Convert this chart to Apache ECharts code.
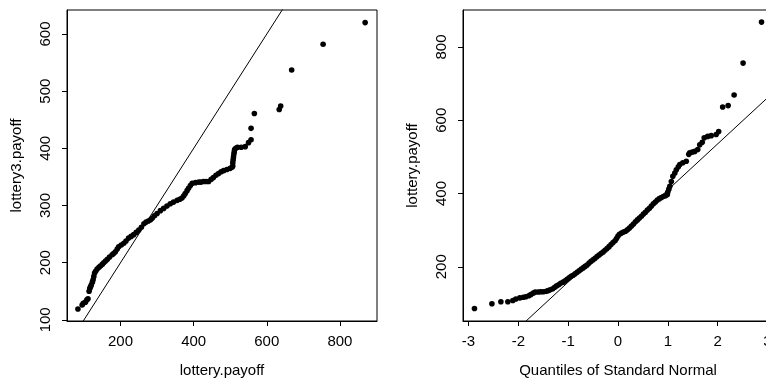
<!DOCTYPE html>
<html>
<head>
<meta charset="utf-8">
<script src="https://cdn.jsdelivr.net/npm/echarts@6/dist/echarts.min.js"></script>
<style>
html,body{margin:0;padding:0;background:#fff;}
#c{width:766px;height:379px;}
</style>
</head>
<body>
<div id="c"></div>
<script>
// Left panel: qqplot(lottery.payoff, lottery3.payoff)
var leftX = [83.5,95,98,104,108,111,114,116,118,120,123,125,127,129,132,136,141,145,150,154,159,164,170,177,181,186,191,195,202,209,215,222,229,236,243,250,257,264,270,276,282,287,293,300,309,318,327,336,345,355,362,368,373,377,382,386,391,396,405,414,420,427,434,441,448,454,461,468,475,482,491,500,505,507,507,508,509,510,511,512,515,520,530,541,550,557,557,566,634,638,668,754,869];
var leftY = [119,126,129,131,135,137,150,155,158,161,166,170,176,182,185,189,192,194,197,200,203,206,210,214,216,219,224,228,231,234,238,243,246,249,253,257,262,268,271,273,275,278,282,286,291,295,299,303,306,309,311,313,317,321,326,330,335,339,340,341,341,342,342,342,346,349,353,356,359,361,363,365,367,369,375,380,385,390,394,398,400,402,402,403,410,415,435,461,468,474,537,582,620];
var leftXTicks = [200,400,600,800];
var leftYTicks = [100,200,300,400,500,600];
var leftLine = {intercept: 0, slope: 1};

// Right panel: qqnorm(lottery.payoff) with qqline
var rightQ = [-2.88,-2.53,-2.35,-2.21,-2.11,-2.05,-1.97,-1.90,-1.85,-1.79,-1.75,-1.70,-1.66,-1.60,-1.55,-1.50,-1.44,-1.40,-1.36,-1.31,-1.27,-1.23,-1.19,-1.15,-1.10,-1.06,-1.02,-0.98,-0.94,-0.90,-0.86,-0.82,-0.78,-0.74,-0.70,-0.66,-0.62,-0.58,-0.54,-0.50,-0.46,-0.42,-0.38,-0.34,-0.30,-0.26,-0.22,-0.18,-0.14,-0.10,-0.06,-0.03,0.00,0.03,0.07,0.11,0.15,0.19,0.23,0.27,0.31,0.35,0.39,0.43,0.47,0.51,0.55,0.59,0.63,0.67,0.71,0.75,0.79,0.83,0.87,0.91,0.95,0.99,1.00,1.02,1.04,1.07,1.10,1.14,1.17,1.21,1.24,1.30,1.37,1.42,1.44,1.49,1.54,1.60,1.64,1.69,1.73,1.80,1.87,1.97,2.02,2.10,2.21,2.33,2.51,2.88];
var rightY = [86,99,104.5,104.5,108,112,115,117,118,121,124,128,131,131,132,132,133,135,137,140,144,148,151,155,158,162,166,170,174,177,181,185,189,193,197,201,205,210,215,219,223,228,232,236,240,245,250,255,261,266,271,277,284,289,292,295,297,301,306,311,317,323,328,333,338,344,349,355,360,366,372,377,382,386,389,392,394,397,404,412,420,433,447,456,465,473,479,484,488,507,511,513,515,520,533,540,552,556,558,561,569,636,640,669,756,868];
var rightXTicks = [-3,-2,-1,0,1,2,3];
var rightYTicks = [200,400,600,800];
var rightLine = {intercept: 284, slope: 125.8};

var FONT = 'Liberation Sans, Arial, Helvetica, sans-serif';

function pairs(a, b) { return a.map(function (v, i) { return [v, b[i]]; }); }
function lineData(p, x0, x1) { return [[x0, p.intercept + p.slope * x0], [x1, p.intercept + p.slope * x1]]; }

function axisCommon(ticks, name, isY, nameGap) {
  return {
    type: 'value',
    name: name,
    nameLocation: 'middle',
    nameGap: nameGap,
    nameTextStyle: {fontSize: 15, color: '#000', fontFamily: FONT},
    axisLine: {show: true, onZero: false, lineStyle: {color: '#000', width: 1}},
    axisTick: {show: true, inside: false, length: 5, customValues: ticks, lineStyle: {color: '#000', width: 1}},
    axisLabel: {show: true, customValues: ticks, fontSize: 15, color: '#000', fontFamily: FONT,
                margin: isY ? 14 : 13, rotate: isY ? 90 : 0, hideOverlap: false},
    splitLine: {show: false}
  };
}

var chart = echarts.init(document.getElementById('c'), null, {renderer: 'canvas'});

var xa0 = axisCommon(leftXTicks, 'lottery.payoff', false, 42); xa0.gridIndex = 0; xa0.min = 53.6; xa0.max = 901.4;
var ya0 = axisCommon(leftYTicks, 'lottery3.payoff', true, 43); ya0.gridIndex = 0; ya0.min = 98; ya0.max = 642;
var xa1 = axisCommon(rightXTicks, 'Quantiles of Standard Normal', false, 42); xa1.gridIndex = 1; xa1.min = -3.11; xa1.max = 3.11;
var ya1 = axisCommon(rightYTicks, 'lottery.payoff', true, 43); ya1.gridIndex = 1; ya1.min = 52; ya1.max = 901;

chart.setOption({
  animation: false,
  backgroundColor: '#fff',
  grid: [
    {left: 67, top: 10, width: 310, height: 311, show: true, borderColor: '#000', borderWidth: 1, backgroundColor: 'transparent', outerBoundsMode: 'none', containLabel: false},
    {left: 463, top: 10, width: 310, height: 311, show: true, borderColor: '#000', borderWidth: 1, backgroundColor: 'transparent', outerBoundsMode: 'none', containLabel: false}
  ],
  xAxis: [xa0, xa1],
  yAxis: [ya0, ya1],
  series: [
    {type: 'scatter', xAxisIndex: 0, yAxisIndex: 0, data: pairs(leftX, leftY), symbol: 'circle', symbolSize: 5.6, itemStyle: {color: '#000', opacity: 1}},
    {type: 'line', xAxisIndex: 0, yAxisIndex: 0, data: lineData(leftLine, 0, 1000), symbol: 'none', clip: true, lineStyle: {color: '#000', width: 1}},
    {type: 'scatter', xAxisIndex: 1, yAxisIndex: 1, data: pairs(rightQ, rightY), symbol: 'circle', symbolSize: 5.6, itemStyle: {color: '#000', opacity: 1}},
    {type: 'line', xAxisIndex: 1, yAxisIndex: 1, data: lineData(rightLine, -3.11, 3.11), symbol: 'none', clip: true, lineStyle: {color: '#000', width: 1}}
  ]
});
</script>
</body>
</html>
